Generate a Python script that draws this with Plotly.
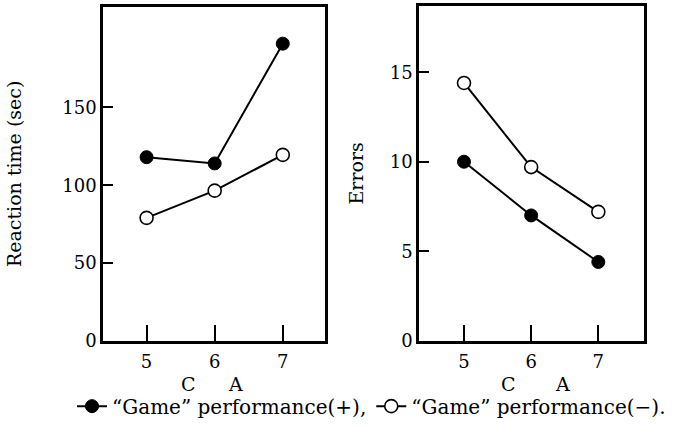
import plotly.graph_objects as go

# Data
crowd = [5, 6, 7]
rt_plus = [118, 114, 191]
rt_minus = [79, 96.5, 119.5]
err_plus = [10.0, 7.0, 4.4]
err_minus = [14.4, 9.7, 7.2]

name_plus = "\u201cGame\u201d performance(+),"
name_minus = "\u201cGame\u201d performance(\u2212)."

FONT = "DejaVu Serif"
W, H = 687, 426

fig = go.Figure()

def add_pair(xa, ya, yp, ym, show):
    fig.add_trace(go.Scatter(x=crowd, y=yp, xaxis=xa, yaxis=ya, mode="lines+markers",
                             name=name_plus, showlegend=show, legendrank=1,
                             line=dict(color="black", width=2),
                             marker=dict(size=13, color="black", line=dict(color="black", width=1))))
    fig.add_trace(go.Scatter(x=crowd, y=ym, xaxis=xa, yaxis=ya, mode="lines+markers",
                             name=name_minus, showlegend=show, legendrank=2,
                             line=dict(color="black", width=2),
                             marker=dict(size=13, color="white", line=dict(color="black", width=1.6))))

add_pair("x", "y", rt_plus, rt_minus, True)
add_pair("x2", "y2", err_plus, err_minus, False)

def px_x(p):
    return p / W

def px_y(p):
    return 1 - p / H

axis_common = dict(showgrid=False, zeroline=False, showline=True, linecolor="black",
                   linewidth=2.5, mirror=True, ticks="inside", tickcolor="black",
                   tickwidth=2, automargin=False,
                   tickfont=dict(family=FONT, size=18, color="black"))

fig.update_layout(
    width=W, height=H,
    margin=dict(l=0, r=0, t=0, b=0),
    paper_bgcolor="white", plot_bgcolor="white",
    font=dict(family=FONT, color="black"),
    xaxis=dict(domain=[px_x(103), px_x(325)], range=[4.36, 7.62], anchor="y",
               tickvals=[5, 6, 7], ticklen=16, ticklabelstandoff=3, **axis_common),
    yaxis=dict(domain=[px_y(344), px_y(7)], range=[0, 214.6], anchor="x",
               tickvals=[0, 50, 100, 150], ticklen=10,
               title=dict(text="Reaction time (sec)", font=dict(family=FONT, size=19), standoff=36),
               **axis_common),
    xaxis2=dict(domain=[px_x(419), px_x(644)], range=[4.33, 7.68], anchor="y2",
                tickvals=[5, 6, 7], ticklen=16, ticklabelstandoff=3, **axis_common),
    yaxis2=dict(domain=[px_y(344), px_y(6)], range=[0, 18.7], anchor="x2",
                tickvals=[0, 5, 10, 15], ticklen=10,
                title=dict(text="Errors", font=dict(family=FONT, size=19), standoff=22),
                **axis_common),
    legend=dict(orientation="h", x=px_x(72), y=px_y(410), xanchor="left", yanchor="middle",
                font=dict(family=FONT, size=20, color="black"), bgcolor="rgba(0,0,0,0)",
                itemwidth=30, tracegroupgap=0),
    showlegend=True,
)

for label, xp in [("C", 188), ("A", 235), ("C", 508), ("A", 562)]:
    fig.add_annotation(text=label, x=px_x(xp), y=px_y(388), xref="paper", yref="paper",
                       xanchor="center", yanchor="middle",
                       showarrow=False, font=dict(family=FONT, size=19, color="black"))

fig.write_html("out.html")
